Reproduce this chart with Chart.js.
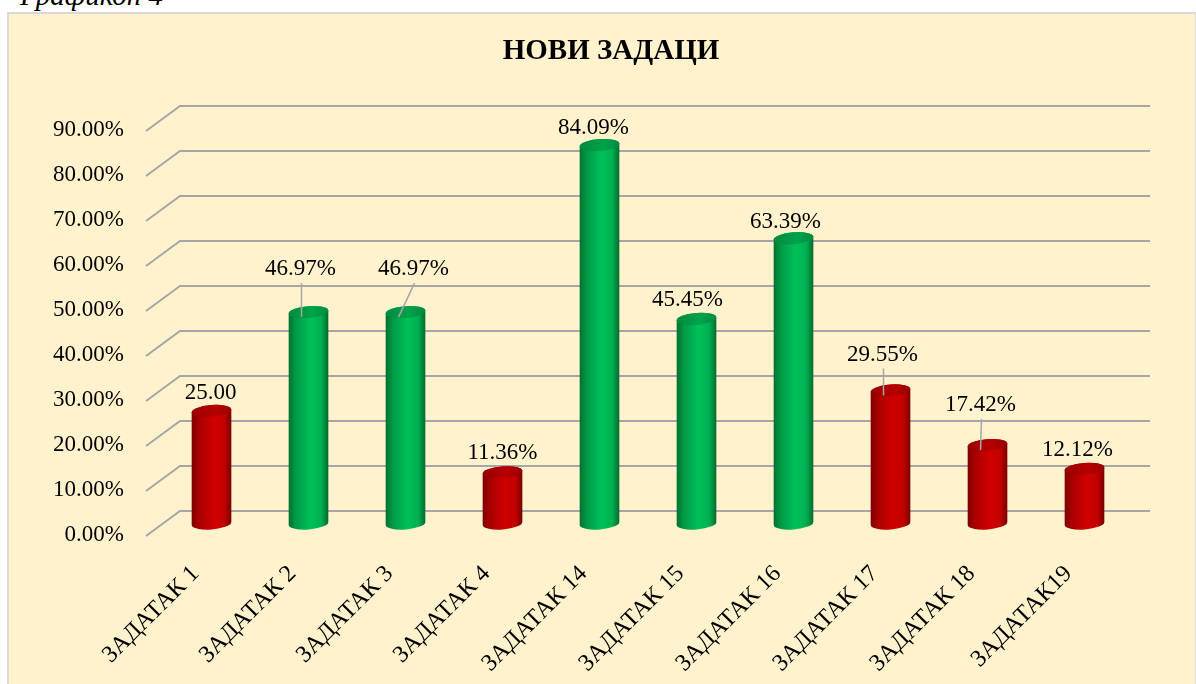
<!DOCTYPE html>
<html>
<head>
<meta charset="utf-8">
<script src="https://cdn.jsdelivr.net/npm/chart.js@4.4.0/dist/chart.umd.min.js"></script>
<style>
html, body { margin: 0; padding: 0; background: #fff; overflow: hidden; }
#cap { position: absolute; left: 20px; top: -21px; font: italic 29px "Liberation Serif", serif; color: #000; white-space: nowrap; }
#box { position: absolute; left: 7px; top: 12px; width: 1186px; height: 690px; background: #FFF2CC; border: 2px solid #d9d9d9; }
#wrap { position: absolute; left: 0; top: 0; width: 1196px; height: 684px; }
</style>
</head>
<body>
<div id="cap">Графикон 4</div>
<div id="box"></div>
<div id="wrap"><canvas id="chart" width="1196" height="684"></canvas></div>
<script>
// podaci sa grafikona
var chartTitle = "НОВИ ЗАДАЦИ";
var categories = ["ЗАДАТАК 1", "ЗАДАТАК 2", "ЗАДАТАК 3", "ЗАДАТАК 4", "ЗАДАТАК 14",
                  "ЗАДАТАК 15", "ЗАДАТАК 16", "ЗАДАТАК 17", "ЗАДАТАК 18", "ЗАДАТАК19"];
var values = [25.00, 46.97, 46.97, 11.36, 84.09, 45.45, 63.39, 29.55, 17.42, 12.12];
var valueLabels = ["25.00", "46.97%", "46.97%", "11.36%", "84.09%", "45.45%", "63.39%", "29.55%", "17.42%", "12.12%"];
var yTicks = [0, 10, 20, 30, 40, 50, 60, 70, 80, 90];

// stil
var barColors = ["red", "green", "green", "red", "green", "green", "green", "red", "red", "red"];
// pomeraj natpisa od vrha valjka, i da li ima liniju
var labelShift = [[-1, -18], [-8, -43], [8, -43], [0, -19], [-6, -17],
                  [-9, -19], [-8, -16], [-8, -36], [-7, -40], [-7, -19]];
var hasLeader = [false, true, true, false, false, false, false, true, true, false];

var DEPTH_X = 34, DEPTH_Y = 25;   // dubina poda (perspektiva)
var FONT = '"Liberation Serif", "Times New Roman", serif';
var GRID = '#a6a6a6';

var palette = {
    red:   { body: ['#7e0000', '#a80000', '#d00000', '#c40000', '#760000'], top: ['#980000', '#b80000'] },
    green: { body: ['#00702f', '#009a45', '#00c05a', '#00b050', '#006a2c'], top: ['#008a3e', '#00a24a'] }
};

var titlePlugin = {
    id: 'titleText',
    afterDraw: function (chart) {
        var ctx = chart.ctx;
        ctx.save();
        ctx.font = 'bold 29px ' + FONT;
        ctx.fillStyle = '#000';
        ctx.textAlign = 'center';
        ctx.textBaseline = 'middle';
        ctx.fillText(chartTitle, 611, 52);
        ctx.restore();
    }
};

var gridPlugin = {
    id: 'grid3d',
    beforeDatasetsDraw: function (chart) {
        var ctx = chart.ctx, y = chart.scales.y, area = chart.chartArea;
        ctx.save();
        ctx.strokeStyle = GRID;
        ctx.lineWidth = 2;
        yTicks.forEach(function (t) {
            var py = y.getPixelForValue(t);
            ctx.beginPath();
            ctx.moveTo(area.left - DEPTH_X, py + DEPTH_Y);
            ctx.lineTo(area.left, py);
            ctx.lineTo(area.right, py);
            ctx.stroke();
        });
        ctx.restore();
    }
};

var cylinderPlugin = {
    id: 'cylinders',
    beforeDatasetDraw: function (chart, args) {
        var ctx = chart.ctx;
        var meta = args.meta;
        var rot = -0.08;
        ctx.save();
        meta.data.forEach(function (bar, i) {
            var x = bar.x - DEPTH_X / 2;
            var yTop = bar.y + DEPTH_Y / 2;
            var yBot = bar.base + DEPTH_Y / 2;
            var rx = bar.width / 2, ry = 6;
            var pal = palette[barColors[i]];

            var g = ctx.createLinearGradient(x - rx, 0, x + rx, 0);
            g.addColorStop(0, pal.body[0]);
            g.addColorStop(0.18, pal.body[1]);
            g.addColorStop(0.55, pal.body[2]);
            g.addColorStop(0.82, pal.body[3]);
            g.addColorStop(1, pal.body[4]);

            ctx.beginPath();
            ctx.ellipse(x, yTop, rx, ry, rot, Math.PI, 0, false);
            ctx.ellipse(x, yBot, rx, ry, rot, 0, Math.PI, false);
            ctx.closePath();
            ctx.fillStyle = g;
            ctx.fill();

            var gt = ctx.createLinearGradient(x - rx, 0, x + rx, 0);
            gt.addColorStop(0, pal.top[0]);
            gt.addColorStop(0.6, pal.top[1]);
            gt.addColorStop(1, pal.top[0]);
            ctx.beginPath();
            ctx.ellipse(x, yTop, rx, ry, rot, 0, Math.PI * 2);
            ctx.fillStyle = gt;
            ctx.fill();
        });
        ctx.restore();
        return false;
    },
    afterDatasetsDraw: function (chart) {
        var ctx = chart.ctx;
        var meta = chart.getDatasetMeta(0);
        ctx.save();
        ctx.font = '23px ' + FONT;
        ctx.textAlign = 'center';
        ctx.textBaseline = 'middle';
        meta.data.forEach(function (bar, i) {
            var x = bar.x - DEPTH_X / 2;
            var yTop = bar.y + DEPTH_Y / 2;
            var lx = x + labelShift[i][0], ly = yTop + labelShift[i][1];
            if (hasLeader[i]) {
                ctx.strokeStyle = GRID;
                ctx.lineWidth = 1.5;
                ctx.beginPath();
                ctx.moveTo(lx + 1, ly + 14);
                ctx.lineTo(x - 7, yTop + 5);
                ctx.stroke();
            }
            ctx.fillStyle = '#000';
            ctx.fillText(valueLabels[i], lx, ly);
        });
        ctx.restore();
    }
};

new Chart(document.getElementById('chart').getContext('2d'), {
    type: 'bar',
    data: {
        labels: categories,
        datasets: [{
            label: chartTitle,
            data: values,
            backgroundColor: 'rgba(0,0,0,0)',
            categoryPercentage: 1,
            barPercentage: 0.41
        }]
    },
    options: {
        responsive: false,
        animation: false,
        layout: { padding: { left: 0, right: 46, top: 106, bottom: 0 } },
        plugins: {
            legend: { display: false },
            tooltip: { enabled: false },
            title: { display: false }
        },
        scales: {
            y: {
                min: 0,
                max: 90,
                afterFit: function (s) { s.width = 180; },
                grid: { display: false },
                border: { display: false },
                ticks: {
                    stepSize: 10,
                    padding: 48,
                    labelOffset: 24,
                    color: '#000',
                    font: { family: FONT, size: 23 },
                    callback: function (v) { return v.toFixed(2) + '%'; }
                }
            },
            x: {
                afterFit: function (s) { s.height = 173; },
                grid: { display: false },
                border: { display: false },
                ticks: {
                    minRotation: 45,
                    maxRotation: 45,
                    autoSkip: false,
                    padding: 41,
                    labelOffset: -33,
                    color: '#000',
                    font: { family: FONT, size: 24 }
                }
            }
        }
    },
    plugins: [gridPlugin, cylinderPlugin, titlePlugin]
});
</script>
</body>
</html>
